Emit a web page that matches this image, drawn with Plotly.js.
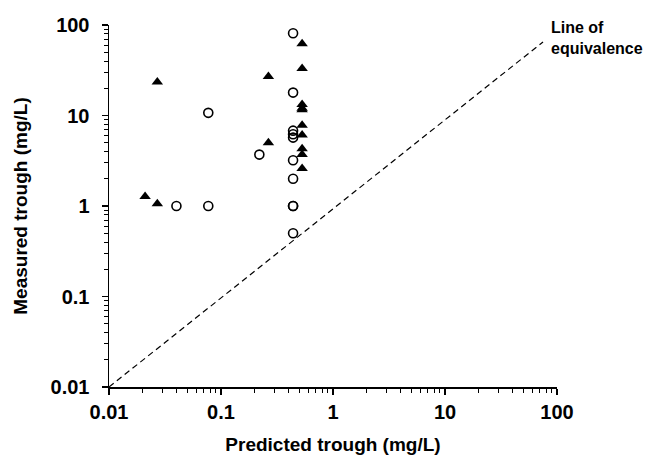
<!DOCTYPE html>
<html>
<head>
<meta charset="utf-8">
<script src="https://cdn.plot.ly/plotly-3.0.1.min.js"></script>
<style>html,body{margin:0;padding:0;background:#fff;}#chart{width:649px;height:463px;}</style>
</head>
<body>
<div id="chart"></div>
<script>
// Open circles series
const circleX = [0.04, 0.077, 0.077, 0.22, 0.44, 0.44, 0.44, 0.44, 0.44, 0.44, 0.44, 0.44, 0.44, 0.44];
const circleY = [1.0, 1.0, 10.7, 3.7, 81, 17.9, 6.8, 6.2, 5.7, 3.2, 2.0, 1.0, 0.5, 1.0];
// Filled triangles series
const triX = [0.021, 0.027, 0.027, 0.265, 0.265, 0.53, 0.53, 0.53, 0.53, 0.53, 0.53, 0.53, 0.53, 0.53, 0.53];
const triY = [1.27, 1.06, 23.5, 26.9, 5.0, 62, 33, 13.2, 11.6, 7.8, 6.1, 4.3, 3.7, 2.6, 12.0];
// Line of equivalence
const lineX = [0.01, 75];
const lineY = [0.01, 65];
const tickVals = [0.01, 0.1, 1, 10, 100];
const tickText = ['0.01', '0.1', '1', '10', '100'];
const xTitle = 'Predicted trough (mg/L)';
const yTitle = 'Measured trough (mg/L)';
const lineLabel = 'Line of<br>equivalence';

const font = 'Liberation Sans, Arial, sans-serif';

const traces = [
  {x: lineX, y: lineY, mode: 'lines', type: 'scatter',
   line: {color: '#000', width: 1.2, dash: '6px,4px'}, hoverinfo: 'skip'},
  {x: circleX, y: circleY, mode: 'markers', type: 'scatter',
   marker: {symbol: 'circle-open', size: 9, color: '#000', line: {width: 1.6, color: '#000'}}},
  {x: triX, y: triY, mode: 'markers', type: 'scatter',
   marker: {symbol: 'triangle-up', size: 10, color: '#000'}}
];

const axisCommon = {
  type: 'log', showgrid: false, zeroline: false, showline: true,
  linecolor: '#000', linewidth: 1.5, ticks: 'outside', ticklen: 6, tickwidth: 1.5, tickcolor: '#000',
  tickvals: tickVals, ticktext: tickText,
  tickfont: {family: font, size: 20, color: '#000', weight: 'bold'},
  minor: {ticks: 'outside', ticklen: 4, tickwidth: 1, tickcolor: '#000', dtick: 'D1', showgrid: false},
  mirror: false
};

const layout = {
  width: 649, height: 463,
  margin: {l: 109, r: 92, t: 25, b: 76},
  paper_bgcolor: '#fff', plot_bgcolor: '#fff',
  showlegend: false,
  xaxis: Object.assign({}, axisCommon, {
    range: [-2, 2],
    title: {text: xTitle, font: {family: font, size: 19, color: '#000', weight: 'bold'}, standoff: 16}
  }),
  yaxis: Object.assign({}, axisCommon, {
    range: [-2, 2],
    ticklabelstandoff: 8,
    title: {text: yTitle, font: {family: font, size: 19, color: '#000', weight: 'bold'}, standoff: 18}
  }),
  annotations: [{
    text: lineLabel, xref: 'paper', yref: 'paper', x: 0.982, y: 0.964,
    xanchor: 'left', yanchor: 'middle', align: 'left', showarrow: false,
    font: {family: font, size: 16, color: '#000', weight: 'bold'}
  }]
};

Plotly.newPlot('chart', traces, layout, {displayModeBar: false, staticPlot: true});
</script>
</body>
</html>
